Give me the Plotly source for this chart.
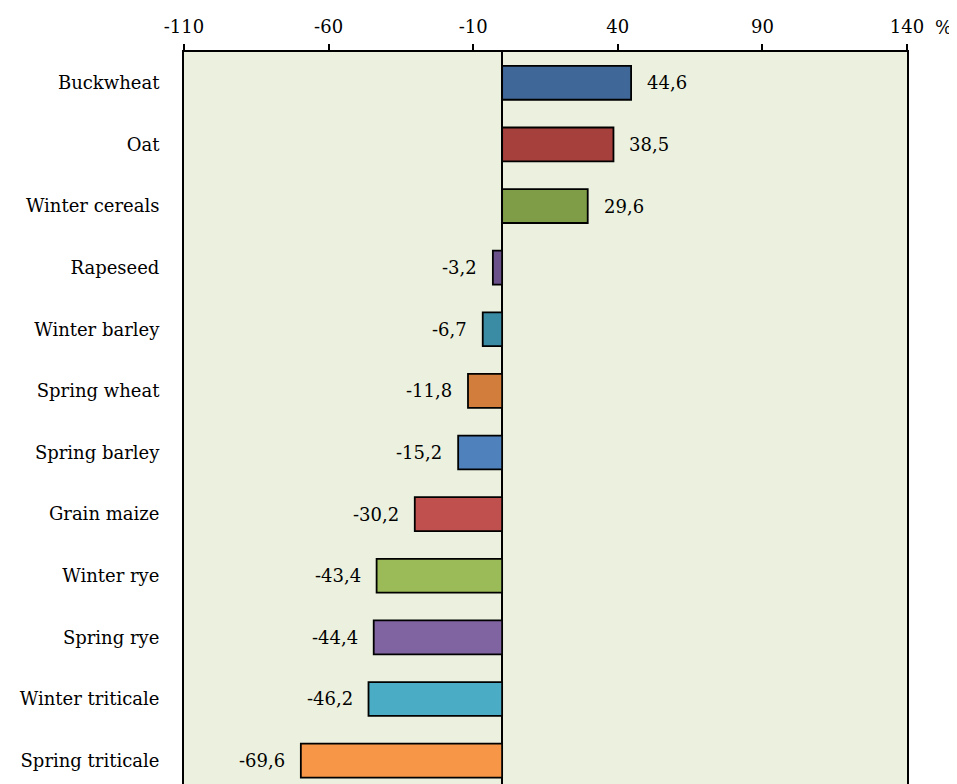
import plotly.graph_objects as go

categories = ["Buckwheat", "Oat", "Winter cereals", "Rapeseed", "Winter barley", "Spring wheat",
              "Spring barley", "Grain maize", "Winter rye", "Spring rye", "Winter triticale", "Spring triticale"]
values = [44.6, 38.5, 29.6, -3.2, -6.7, -11.8, -15.2, -30.2, -43.4, -44.4, -46.2, -69.6]
colors = ["#3F6797", "#A5403D", "#7F9D47", "#6A5189", "#3A8CA5", "#D27D3B",
          "#4F81BD", "#C0504D", "#9BBB59", "#8064A2", "#4BACC6", "#F79646"]
tick_vals = [-110, -60, -10, 40, 90, 140]
tick_text = ["-110", "-60", "-10", "40", "90", "140"]

FONT = "DejaVu Serif"
FS = 18

fig = go.Figure()
fig.add_trace(go.Bar(
    x=values, y=categories, orientation="h",
    marker=dict(color=colors, line=dict(color="black", width=1.8)),
    width=0.55, showlegend=False, hoverinfo="skip",
))

for c, v in zip(categories, values):
    fig.add_annotation(
        x=v, y=c, xref="x", yref="y",
        text=f"{v:.1f}".replace(".", ","),
        showarrow=False,
        xanchor="left" if v >= 0 else "right",
        xshift=14 if v >= 0 else -14,
        font=dict(family=FONT, size=FS, color="black"),
    )

fig.add_annotation(
    text="%", xref="paper", yref="paper", x=1.0, y=1.0, xanchor="left", yanchor="bottom",
    xshift=26, yshift=12, showarrow=False, font=dict(family=FONT, size=FS, color="black"),
)

fig.update_layout(
    width=949, height=776,
    margin=dict(l=176, r=50, t=44, b=0),
    paper_bgcolor="white",
    plot_bgcolor="#EBF1DE",
    font=dict(family=FONT, size=FS, color="black"),
    xaxis=dict(
        side="top", range=[-110, 140], tickvals=tick_vals, ticktext=tick_text,
        showgrid=False, zeroline=True, zerolinecolor="black", zerolinewidth=1.5,
        showline=True, linecolor="black", linewidth=2,
        ticks="outside", ticklen=6, tickwidth=2, tickcolor="black",
        ticklabelstandoff=4, fixedrange=True,
    ),
    yaxis=dict(
        categoryorder="array", categoryarray=categories,
        autorange=False, range=[11.38, -0.5],
        showgrid=False, zeroline=False,
        showline=True, mirror=True, linecolor="black", linewidth=2,
        ticks="", ticklabelstandoff=19, fixedrange=True,
    ),
)

fig.write_html("out.html")
